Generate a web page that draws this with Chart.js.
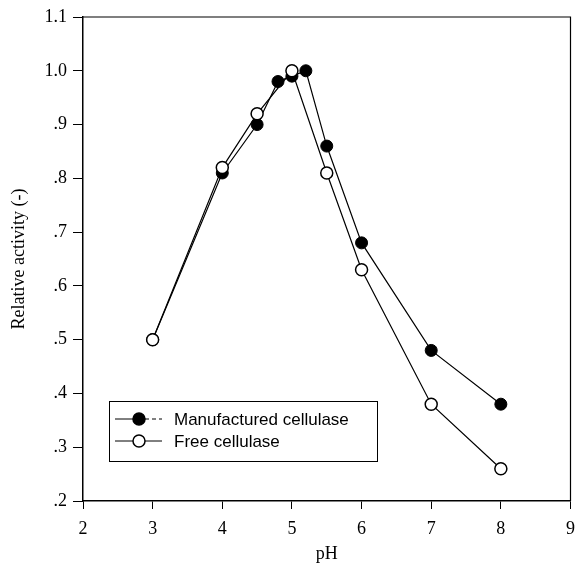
<!DOCTYPE html>
<html>
<head>
<meta charset="utf-8">
<script src="https://cdn.jsdelivr.net/npm/chart.js@4"></script>
<style>
  body { margin: 0; background: #fff; }
  #wrap { width: 578px; height: 577px; }
</style>
</head>
<body>
<div id="wrap"><canvas id="phChart" width="578" height="577"></canvas></div>
<script>
// chart values
var phManufactured = [3, 4, 4.5, 4.8, 5, 5.2, 5.5, 6, 7, 8];
var actManufactured = [0.50, 0.81, 0.90, 0.98, 0.99, 1.00, 0.86, 0.68, 0.48, 0.38];
var phFree = [3, 4, 4.5, 5, 5.5, 6, 7, 8];
var actFree = [0.50, 0.82, 0.92, 1.00, 0.81, 0.63, 0.38, 0.26];
var yTickLabels = ['.2', '.3', '.4', '.5', '.6', '.7', '.8', '.9', '1.0', '1.1'];
var seriesNames = ['Manufactured cellulase', 'Free cellulase'];

var serif = "'Liberation Serif', 'Times New Roman', serif";
var sans = "'Liberation Sans', Arial, sans-serif";

function toPoints(xs, ys) {
  return xs.map(function (x, i) { return {x: x, y: ys[i]}; });
}

// draws the top and right sides of the plot box
var frameLines = {
  id: 'frameLines',
  afterDraw: function (chart) {
    var a = chart.chartArea, c = chart.ctx;
    c.save();
    c.strokeStyle = '#000';
    c.lineWidth = 1.2;
    c.beginPath();
    c.moveTo(a.left, a.top);
    c.lineTo(a.right, a.top);
    c.lineTo(a.right, a.bottom);
    c.stroke();
    c.restore();
  }
};

// legend box sitting inside the plot, like the figure
var boxLegend = {
  id: 'boxLegend',
  afterDraw: function (chart) {
    var c = chart.ctx;
    var x0 = 109, y0 = 401, w = 268, h = 60;
    c.save();
    c.fillStyle = '#fff';
    c.fillRect(x0, y0, w, h);
    c.strokeStyle = '#000';
    c.lineWidth = 1;
    c.strokeRect(x0 + 0.5, y0 + 0.5, w, h);
    var rows = [419, 441];
    [0, 1].forEach(function (k) {
      var ds = chart.data.datasets.filter(function (d) { return d.label === seriesNames[k]; })[0];
      var y = rows[k];
      c.strokeStyle = '#000';
      c.lineWidth = 1;
      c.beginPath();
      c.moveTo(115, y); c.lineTo(133, y);
      c.stroke();
      if (k === 0) c.setLineDash([4, 3]);
      c.beginPath();
      c.moveTo(145, y); c.lineTo(162, y);
      c.stroke();
      c.setLineDash([]);
      c.beginPath();
      c.arc(139, y, 6, 0, Math.PI * 2);
      c.fillStyle = ds.pointBackgroundColor;
      c.fill();
      c.lineWidth = 1.5;
      c.stroke();
      c.fillStyle = '#000';
      c.font = '17px ' + sans;
      c.textBaseline = 'middle';
      c.fillText(ds.label, 174, y + 1);
    });
    c.restore();
  }
};

var ctx = document.getElementById('phChart').getContext('2d');
var chart = new Chart(ctx, {
  type: 'line',
  data: {
    datasets: [
      {
        label: seriesNames[0],
        data: toPoints(phManufactured, actManufactured),
        borderColor: '#000',
        borderWidth: 1.2,
        pointRadius: 6,
        pointBackgroundColor: '#000',
        pointBorderColor: '#000',
        pointBorderWidth: 1,
        order: 1
      },
      {
        label: seriesNames[1],
        data: toPoints(phFree, actFree),
        borderColor: '#000',
        borderWidth: 1.2,
        pointRadius: 6,
        pointBackgroundColor: '#fff',
        pointBorderColor: '#000',
        pointBorderWidth: 1.5,
        order: 0
      }
    ]
  },
  options: {
    responsive: false,
    animation: false,
    layout: { padding: { top: 17, right: 5, left: 0, bottom: 0 } },
    plugins: {
      legend: { display: false },
      tooltip: { enabled: false }
    },
    scales: {
      x: {
        type: 'linear',
        min: 2,
        max: 9,
        ticks: { stepSize: 1, color: '#000', padding: 9, font: { family: serif, size: 18 } },
        grid: { drawOnChartArea: false, drawTicks: true, tickLength: 8, color: '#000' },
        border: { color: '#000', width: 1.5 },
        title: { display: true, text: 'pH', color: '#000', padding: { top: 2, bottom: 12 }, font: { family: serif, size: 18 } },
        afterFit: function (s) { s.height = 76; s.paddingLeft = 0; s.paddingRight = 0; }
      },
      y: {
        min: 0.2,
        max: 1.1,
        ticks: {
          stepSize: 0.1,
          color: '#000',
          padding: 6,
          font: { family: serif, size: 18 },
          callback: function (v, i) { return yTickLabels[i]; }
        },
        grid: { drawOnChartArea: false, drawTicks: true, tickLength: 10, color: '#000' },
        border: { color: '#000', width: 1.5 },
        title: { display: true, text: 'Relative activity (-)', color: '#000', padding: { top: 8, bottom: 0 }, font: { family: serif, size: 18 } },
        afterFit: function (s) { s.width = 83; s.paddingTop = 0; s.paddingBottom = 0; }
      }
    }
  },
  plugins: [frameLines, boxLegend]
});
</script>
</body>
</html>
